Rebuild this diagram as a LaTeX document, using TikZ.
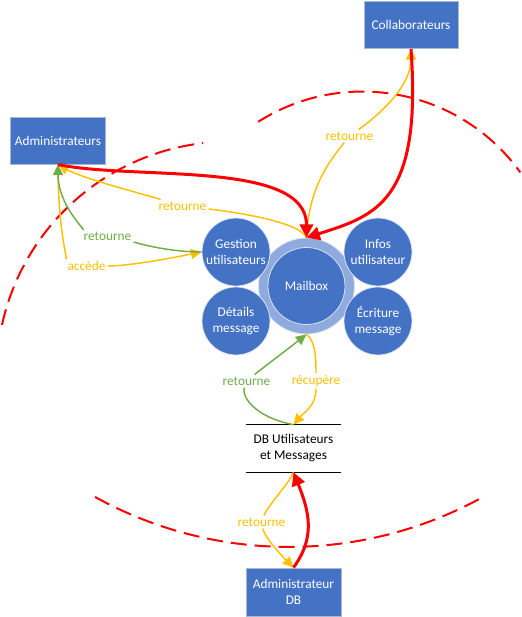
\documentclass[tikz,border=0pt]{standalone}
\usepackage{fontspec}
\setmainfont{Carlito}
\usetikzlibrary{arrows.meta}
\definecolor{boxblue}{HTML}{4472C4}
\definecolor{ringblue}{HTML}{8FAADC}
\definecolor{edgegray}{HTML}{A9B7D4}
\definecolor{flowyellow}{HTML}{FFC000}
\definecolor{flowgreen}{HTML}{70AD47}
\definecolor{flowred}{HTML}{FF0000}
\begin{document}
\begin{tikzpicture}
 [x=0.75pt, y=0.75pt,
 every node/.style={font=\fontsize{10}{12}\selectfont},
 actorbox/.style={rectangle, draw=edgegray, fill=boxblue, text=white, line width=0.75pt, minimum width=70.5pt, minimum height=35.25pt, align=center},
 procball/.style={circle, draw=white!80!boxblue, fill=boxblue, text=white, line width=0.6pt, inner sep=0pt, minimum size=51pt, align=center},
 hubring/.style={circle, draw=white!70!ringblue, fill=ringblue, line width=0.6pt, minimum size=72pt},
 hubcore/.style={circle, draw=white!80!boxblue, fill=boxblue, text=white, line width=0.6pt, inner sep=0pt, minimum size=57.75pt},
 storetext/.style={rectangle, minimum width=71.25pt, minimum height=35.25pt, align=center},
 storeline/.style={draw=black, line width=0.75pt},
 boundary/.style={draw=flowred, line width=1.5pt, dash pattern=on 12pt off 6pt},
 redflow/.style={draw=flowred, line width=2.25pt, -{Triangle[length=10pt,width=10pt]}},
 yellowline/.style={draw=flowyellow, line width=1.1pt},
 yellowflow/.style={yellowline, -{Triangle[length=8pt,width=7.5pt]}},
 greenline/.style={draw=flowgreen, line width=1.1pt},
 greenflow/.style={greenline, -{Triangle[length=8pt,width=7.5pt]}},
 yellowlabel/.style={text=flowyellow, inner sep=1.5pt},
 greenlabel/.style={text=flowgreen, inner sep=1.5pt}
 ]
 \useasboundingbox (0,0) rectangle (521,-617);
 % trust boundaries
 \draw[boundary] (230,-375) ++(167.6:175.1pt) arc[start angle=167.6, end angle=96.6, radius=175.1pt];
 \draw[boundary] (362.4,-286.2) ++(122.4:146pt) arc[start angle=122.4, end angle=35.8, radius=146pt];
 \draw[boundary] (289,-145.6) ++(-118.9:301pt) arc[start angle=-118.9, end angle=-61, radius=301pt];

 \node at (58,-140.5) [actorbox] (admin) {Administrateurs};
 \node at (411,-25) [actorbox] (collab) {Collaborateurs};
 \node at (293.5,-592) [actorbox, minimum width=71.25pt, minimum height=36pt] (admdb) {Administrateur\\DB};
 \node at (306.5,-286) [hubring] (mailbox) {};
 \node at (236,-252) [procball] (gestion) {Gestion\\utilisateurs};
 \node at (378,-252) [procball] (infos) {Infos\\utilisateur};
 \node at (236,-321) [procball] (details) {Détails\\message};
 \node at (378,-321) [procball] (ecriture) {Écriture\\message};
 \node at (306.5,-286) [hubcore] (core) {Mailbox};
 \node at (293.5,-448.5) [storetext] (db) {DB Utilisateurs\\et Messages};
 \draw[storeline] (db.north west) -- (db.north east) (db.south west) -- (db.south east);

 \node at (182.5,-206) [yellowlabel] (ret1) {retourne};
 \node at (349.5,-136) [yellowlabel] (ret2) {retourne};
 \node at (86.5,-266) [yellowlabel] (acc) {accède};
 \node at (107.5,-236.5) [greenlabel] (ret3) {retourne};
 \node at (316,-381) [yellowlabel] (recup) {récupère};
 \node at (246.5,-381) [greenlabel] (ret4) {retourne};
 \node at (261.5,-522) [yellowlabel] (ret5) {retourne};

 % flows
 \draw[yellowline] (mailbox.north) .. controls +(-8,18) and +(35,-4) .. (ret1);
 \draw[yellowflow] (ret1) .. controls +(-50,15) and +(25,-14) .. (admin.south);
 \draw[yellowline] (mailbox.north) .. controls +(2,50) and +(-20,-25) .. (ret2);
 \draw[yellowflow] (ret2) .. controls +(35,25) and +(0,-35) .. (collab.south);
 \draw[yellowline] (admin.south) .. controls +(0,-70) and +(-18,6) .. (acc);
 \draw[yellowflow] (acc) .. controls +(40,0) and +(-40,-8) .. (gestion.west);
 \draw[greenline] (gestion.west) .. controls +(-35,0) and +(28,-6) .. (ret3);
 \draw[greenflow] (ret3) .. controls +(-22,6) and +(0,-40) .. (admin.south);
 \draw[yellowline] (mailbox.south) .. controls +(10,-6) and +(0,15) .. (recup);
 \draw[yellowflow] (recup) .. controls +(0,-25) and +(10,12) .. (db.north);
 \draw[greenline] (db.north) .. controls +(-40,8) and +(-5,-15) .. (ret4);
 \draw[greenflow] (ret4) .. controls +(15,12) and +(-18,-14) .. (mailbox.south);
 \draw[yellowline] (db.south) .. controls +(-5,-12) and +(6,16) .. (ret5);
 \draw[yellowflow] (ret5) .. controls +(3,-15) and +(-14,14) .. (admdb.north);
 \draw[redflow] (admin.south) .. controls +(76,-16) and +(0,78) .. (mailbox.north);
 \draw[redflow] (collab.south) .. controls +(11,-152) and +(70,22) .. (mailbox.north);
 \draw[redflow] (admdb.north) .. controls +(22,30) and +(16,-40) .. (db.south);
\end{tikzpicture}
\end{document}
